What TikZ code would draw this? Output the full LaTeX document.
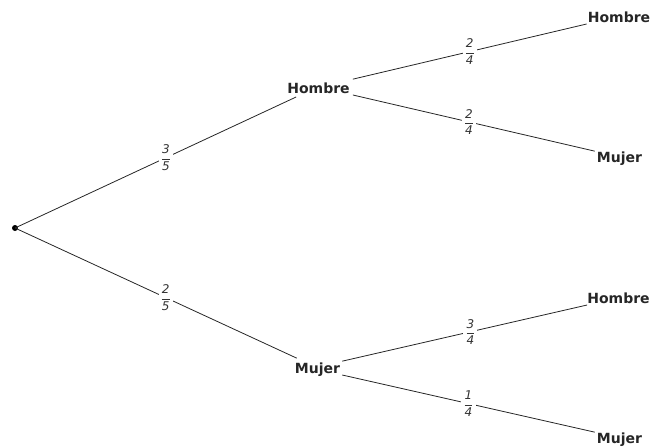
\documentclass[tikz,border=0pt]{standalone}
\usepackage{fontspec}
\setmainfont{DejaVu Sans}
\newcommand\frc[2]{$\displaystyle\frac{\textit{#1}}{\textit{#2}}$}
\begin{document}
\begin{tikzpicture}[x=1pt,y=-1pt,
  outcome/.style={font=\fontsize{14}{16}\selectfont\bfseries, inner sep=0pt, anchor=base, text=black!85},
  prob/.style={font=\fontsize{12}{14}\selectfont, fill=white, inner sep=2pt, text=black!80},
  branch/.style={draw=black!85, line width=0.8pt}]
\useasboundingbox (0,0) rectangle (658,447);
\fill[black] (15,228) circle (3) coordinate (root);
\node[outcome] (h1) at (318.5,93) {Hombre};
\node[outcome] (m1) at (317.5,373) {Mujer};
\node[outcome] (hh) at (619,22) {Hombre};
\node[outcome] (hm) at (619.5,162) {Mujer};
\node[outcome] (mh) at (618.5,303) {Hombre};
\node[outcome] (mm) at (619.5,443) {Mujer};
\draw[branch] (root) -- node[prob, pos=0.537] {\frc{3}{5}} ([xshift=9pt,yshift=-4pt]h1.base west);
\draw[branch] (root) -- node[prob, pos=0.535] {\frc{2}{5}} ([xshift=2pt,yshift=4pt]m1.north west);
\draw[branch] ([xshift=3pt,yshift=3pt]h1.north east) -- node[prob, pos=0.5] {\frc{2}{4}} ([xshift=-1pt,yshift=-2pt]hh.base west);
\draw[branch] ([xshift=3pt,yshift=-2pt]h1.base east) -- node[prob, pos=0.48] {\frc{2}{4}} ([xshift=-2pt]hm.north west);
\draw[branch] ([xshift=2pt,yshift=1pt]m1.north east) -- node[prob, pos=0.523] {\frc{3}{4}} ([yshift=-2pt]mh.base west);
\draw[branch] ([xshift=2pt,yshift=-2pt]m1.base east) -- node[prob, pos=0.5] {\frc{1}{4}} ([xshift=-2pt]mm.north west);
\end{tikzpicture}
\end{document}
